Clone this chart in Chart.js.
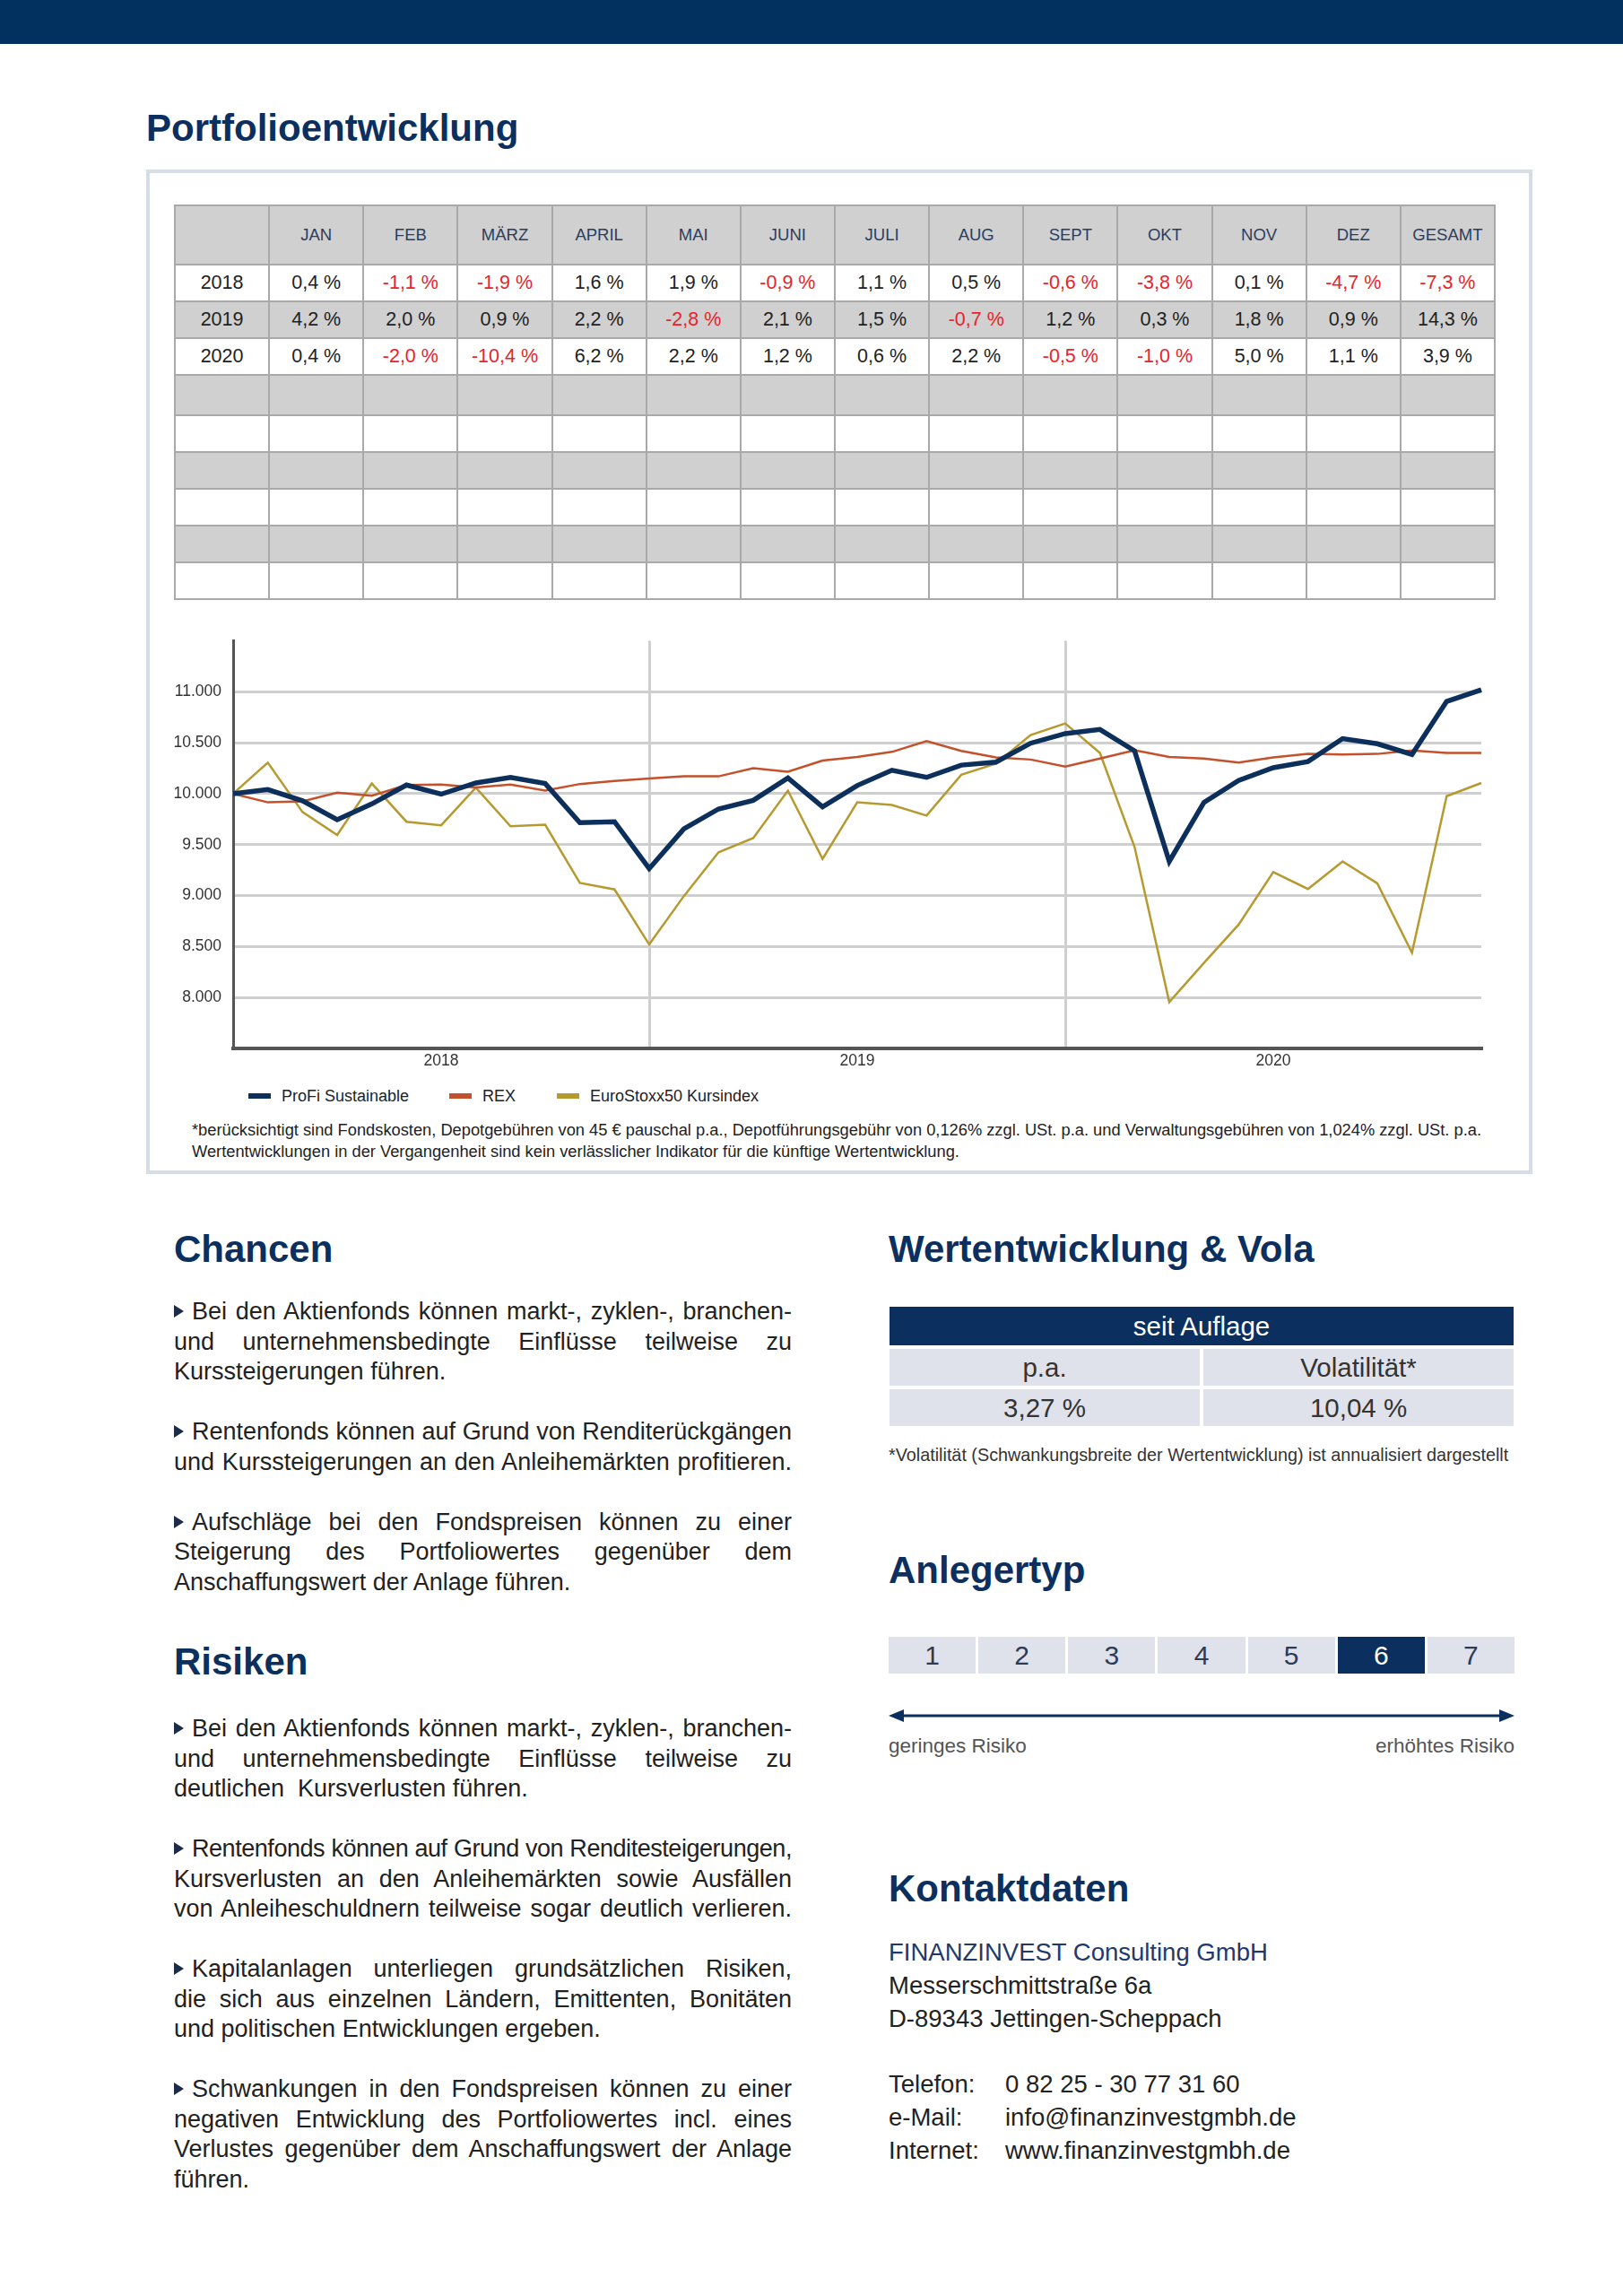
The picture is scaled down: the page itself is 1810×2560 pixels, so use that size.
<!DOCTYPE html>
<html lang="de">
<head>
<meta charset="utf-8">
<title>Portfolioentwicklung</title>
<script src="https://cdn.jsdelivr.net/npm/chart.js@4.4.1/dist/chart.umd.min.js"></script>
<style>
  html, body { margin: 0; padding: 0; background: #fff; }
  body { font-family: "Liberation Sans", Arial, Helvetica, sans-serif; color: #222; }
  #page { position: relative; width: 1810px; height: 2560px; overflow: hidden; }
  .abs { position: absolute; }
  #topbar { left: 0; top: 0; width: 1810px; height: 49px; background: #02305f; }
  h1, h2 { margin: 0; font-size: 42px; line-height: 42px; font-weight: bold; color: #0b2f5e; white-space: nowrap; }
  #panel { left: 163px; top: 189px; width: 1546px; height: 1120px; border: 4px solid #d6dde7; box-sizing: border-box; }

  #perf { left: 194px; top: 228px; width: 1474px; border-collapse: collapse; table-layout: fixed; }
  #perf td, #perf th { border: 2px solid #a9a9a9; text-align: center; padding: 0; }
  #perf th { font-weight: normal; font-size: 18.5px; color: #2c3e5f; background: #d0d0d0; }
  #perf td { font-size: 21.5px; color: #222; }
  #perf tr.hd { height: 66px; }
  #perf tr { height: 41px; }
  #perf tr.tall { height: 45px; }
  #perf tr.g td { background: #d0d0d0; }
  #perf td.neg { color: #e8232a; }

  #chartBox { left: 180px; top: 691px; width: 1500px; height: 519px; }
  .leg { top: 1210px; height: 24px; display: flex; align-items: center; font-size: 18px; color: #222; white-space: nowrap; }
  .leg i { display: inline-block; width: 25px; height: 6px; margin-right: 12px; }
  #note { left: 214px; top: 1248px; font-size: 18.3px; line-height: 24px; color: #222; white-space: nowrap; }

  .txt { width: 689px; font-size: 27px; line-height: 33.5px; color: #222; }
  .txt p { margin: 0 0 33.5px 0; }
  .txt span { display: block; white-space: nowrap; }
  .txt span.j { text-align: justify; text-align-last: justify; }
  .tri { display: inline-block; width: 0; height: 0; border-left: 11px solid #1d2b4a; border-top: 7px solid transparent; border-bottom: 7px solid transparent; margin-right: 9px; vertical-align: 2px; }

  #vola { left: 992px; top: 1457px; width: 696px; }
  #vola .head { height: 43px; line-height: 43px; background: #0b2f5e; color: #fff; text-align: center; font-size: 29.5px; }
  #vola .row { display: flex; gap: 4px; margin-top: 4px; }
  #vola .row div { flex: 1; height: 41px; line-height: 41px; background: #dfe2ea; text-align: center; font-size: 29.5px; color: #333; }
  #volaNote { left: 991px; top: 1610px; font-size: 19.8px; line-height: 24px; color: #333; white-space: nowrap; }

  #risk { left: 991px; top: 1825px; width: 698px; display: flex; gap: 3px; }
  #risk div { flex: 1; height: 41px; line-height: 41px; text-align: center; background: #dfe2ea; color: #2f3b55; font-size: 30px; }
  #risk div.on { background: #0b2f5e; color: #fff; }
  #arrow { left: 991px; top: 1903px; }
  .rlab { top: 1934px; font-size: 22.5px; line-height: 26px; color: #555; white-space: nowrap; }

  #contact { left: 991px; top: 2159px; font-size: 27.5px; line-height: 36.8px; color: #222; white-space: nowrap; }
  #contact .firm { color: #1f3a6a; }
  #contact .lbl { display: inline-block; width: 130px; }
</style>
</head>
<body>
<div id="page">
  <div id="topbar" class="abs"></div>
  <h1 class="abs" style="left:163px; top:122px;">Portfolioentwicklung</h1>
  <div id="panel" class="abs"></div>

  <table id="perf" class="abs"></table>

  <div id="chartBox" class="abs"><canvas id="perfChart"></canvas></div>
  <div id="legend"></div>
  <div id="note" class="abs">*berücksichtigt sind Fondskosten, Depotgebühren von 45 € pauschal p.a., Depotführungsgebühr von 0,126% zzgl. USt. p.a. und Verwaltungsgebühren von 1,024% zzgl. USt. p.a.<br>Wertentwicklungen in der Vergangenheit sind kein verlässlicher Indikator für die künftige Wertentwicklung.</div>

  <!-- left column -->
  <h2 class="abs" style="left:194px; top:1372px;">Chancen</h2>
  <div class="abs txt" style="left:194px; top:1446px;">
    <p>
      <span class="j"><i class="tri"></i>Bei den Aktienfonds können markt-, zyklen-, branchen-</span>
      <span class="j">und unternehmensbedingte Einflüsse teilweise zu</span>
      <span>Kurssteigerungen führen.</span>
    </p>
    <p>
      <span class="j"><i class="tri"></i>Rentenfonds können auf Grund von Renditerückgängen</span>
      <span class="j">und Kurssteigerungen an den Anleihemärkten profitieren.</span>
    </p>
    <p>
      <span class="j"><i class="tri"></i>Aufschläge bei den Fondspreisen können zu einer</span>
      <span class="j">Steigerung des Portfoliowertes gegenüber dem</span>
      <span>Anschaffungswert der Anlage führen.</span>
    </p>
  </div>

  <h2 class="abs" style="left:194px; top:1832px;">Risiken</h2>
  <div class="abs txt" style="left:194px; top:1911px;">
    <p>
      <span class="j"><i class="tri"></i>Bei den Aktienfonds können markt-, zyklen-, branchen-</span>
      <span class="j">und unternehmensbedingte Einflüsse teilweise zu</span>
      <span>deutlichen&nbsp; Kursverlusten führen.</span>
    </p>
    <p>
      <span class="j"><i class="tri"></i>Rentenfonds können auf Grund von Renditesteigerungen,</span>
      <span class="j">Kursverlusten an den Anleihemärkten sowie Ausfällen</span>
      <span class="j">von Anleiheschuldnern teilweise sogar deutlich verlieren.</span>
    </p>
    <p>
      <span class="j"><i class="tri"></i>Kapitalanlagen unterliegen grundsätzlichen Risiken,</span>
      <span class="j">die sich aus einzelnen Ländern, Emittenten, Bonitäten</span>
      <span>und politischen Entwicklungen ergeben.</span>
    </p>
    <p>
      <span class="j"><i class="tri"></i>Schwankungen in den Fondspreisen können zu einer</span>
      <span class="j">negativen Entwicklung des Portfoliowertes incl. eines</span>
      <span class="j">Verlustes gegenüber dem Anschaffungswert der Anlage</span>
      <span>führen.</span>
    </p>
  </div>

  <!-- right column -->
  <h2 class="abs" style="left:991px; top:1372px;">Wertentwicklung &amp; Vola</h2>
  <div id="vola" class="abs">
    <div class="head">seit Auflage</div>
    <div class="row"><div>p.a.</div><div>Volatilität*</div></div>
    <div class="row"><div id="volaPa"></div><div id="volaVol"></div></div>
  </div>
  <div id="volaNote" class="abs">*Volatilität (Schwankungsbreite der Wertentwicklung) ist annualisiert dargestellt</div>

  <h2 class="abs" style="left:991px; top:1730px;">Anlegertyp</h2>
  <div id="risk" class="abs"></div>
  <svg id="arrow" class="abs" width="698" height="20" viewBox="0 0 698 20">
    <line x1="10" y1="10" x2="688" y2="10" stroke="#0b2f5e" stroke-width="3"/>
    <polygon points="0,10 17,3 17,17" fill="#0b2f5e"/>
    <polygon points="698,10 681,3 681,17" fill="#0b2f5e"/>
  </svg>
  <div class="abs rlab" style="left:991px;">geringes Risiko</div>
  <div class="abs rlab" style="right:121px; text-align:right;">erhöhtes Risiko</div>

  <h2 class="abs" style="left:991px; top:2085px;">Kontaktdaten</h2>
  <div id="contact" class="abs">
    <div class="firm">FINANZINVEST Consulting GmbH</div>
    <div>Messerschmittstraße 6a</div>
    <div>D-89343 Jettingen-Scheppach</div>
    <div>&nbsp;</div>
    <div><span class="lbl">Telefon:</span>0 82 25 - 30 77 31 60</div>
    <div><span class="lbl">e-Mail:</span>info@finanzinvestgmbh.de</div>
    <div><span class="lbl">Internet:</span>www.finanzinvestgmbh.de</div>
  </div>
</div>

<script>
// Monthly returns table (percent), last value = GESAMT
const months = ["JAN", "FEB", "MÄRZ", "APRIL", "MAI", "JUNI", "JULI", "AUG", "SEPT", "OKT", "NOV", "DEZ"];
const tableYears = ["2018", "2019", "2020"];
const returns2018 = [0.4, -1.1, -1.9, 1.6, 1.9, -0.9, 1.1, 0.5, -0.6, -3.8, 0.1, -4.7, -7.3];
const returns2019 = [4.2, 2.0, 0.9, 2.2, -2.8, 2.1, 1.5, -0.7, 1.2, 0.3, 1.8, 0.9, 14.3];
const returns2020 = [0.4, -2.0, -10.4, 6.2, 2.2, 1.2, 0.6, 2.2, -0.5, -1.0, 5.0, 1.1, 3.9];
const emptyRows = 6;

// Chart series: start value (end 2017) + month-end values 2018-2020
const chartYears = ["2018", "2019", "2020"];
const profi = [10000, 10040, 9930, 9745, 9900, 10085, 9995, 10105, 10160, 10100, 9715, 9725, 9265,
  9655, 9850, 9935, 10155, 9870, 10080, 10230, 10160, 10280, 10310, 10495, 10590,
  10630, 10420, 9335, 9915, 10130, 10255, 10315, 10540, 10490, 10385, 10905, 11020];
const rex = [10000, 9915, 9925, 10010, 9980, 10085, 10090, 10060, 10090, 10030, 10095, 10125, 10150,
  10170, 10170, 10250, 10215, 10325, 10360, 10410, 10515, 10420, 10355, 10335, 10265,
  10345, 10425, 10360, 10345, 10305, 10355, 10390, 10385, 10390, 10425, 10400, 10400];
const stoxx = [10000, 10305, 9820, 9595, 10100, 9725, 9690, 10060, 9680, 9695, 9125, 9060, 8520,
  8995, 9425, 9565, 10030, 9360, 9915, 9890, 9785, 10185, 10295, 10575, 10690,
  10400, 9475, 7955, 8340, 8715, 9230, 9065, 9335, 9120, 8440, 9975, 10105];
const yTicks = [8000, 8500, 9000, 9500, 10000, 10500, 11000];

const seriesNames = ["ProFi Sustainable", "REX", "EuroStoxx50 Kursindex"];
const seriesColors = ["#0d2f5b", "#c4512b", "#b69a30"];

const volaValues = ["3,27 %", "10,04 %"];
const riskLevels = [1, 2, 3, 4, 5, 6, 7];
const riskActive = 6;

const fmtPct = v => v.toFixed(1).replace(".", ",") + " %";
const fmtThousand = v => String(v).replace(/\B(?=(\d{3})+(?!\d))/g, ".");

// build performance table
const perf = document.getElementById("perf");
let html = '<tr class="hd"><th></th>' + months.map(m => `<th>${m}</th>`).join("") + "<th>GESAMT</th></tr>";
[returns2018, returns2019, returns2020].forEach((row, i) => {
  html += `<tr class="${i % 2 ? "g" : ""}"><td>${tableYears[i]}</td>` +
    row.map(v => `<td class="${v < 0 ? "neg" : ""}">${fmtPct(v)}</td>`).join("") + "</tr>";
});
for (let r = 0; r < emptyRows; r++) {
  html += `<tr class="${r % 2 ? "" : "g"} ${r === 0 ? "tall" : ""}">` + "<td></td>".repeat(14) + "</tr>";
}
perf.innerHTML = html;

document.getElementById("volaPa").textContent = volaValues[0];
document.getElementById("volaVol").textContent = volaValues[1];
document.getElementById("risk").innerHTML =
  riskLevels.map(n => `<div class="${n === riskActive ? "on" : ""}">${n}</div>`).join("");

// squeeze body lines that are wider than the column
document.querySelectorAll(".txt span").forEach(s => {
  s.style.display = "inline-block";
  const w = s.getBoundingClientRect().width;
  s.style.display = "";
  if (w > 689) {
    const n = s.textContent.length;
    s.style.letterSpacing = (-(w - 688) / n).toFixed(3) + "px";
  }
});

// legend
const legendX = [277, 501, 621];
document.getElementById("legend").innerHTML = seriesNames.map((n, i) =>
  `<div class="abs leg" style="left:${legendX[i]}px"><i style="background:${seriesColors[i]}"></i>${n}</div>`).join("");

// category labels: start + 12 months per year
const labels = ["Start"];
chartYears.forEach(y => months.forEach(m => labels.push(m + " " + y)));

const font = { family: '"Liberation Sans", Arial, sans-serif', size: 17.5 };
const gridGrey = "#cfcfcf";

const ctx = document.getElementById("perfChart").getContext("2d");
new Chart(ctx, {
  type: "line",
  data: {
    labels: labels,
    datasets: [
      { label: seriesNames[0], data: profi, borderColor: seriesColors[0], borderWidth: 5.5 },
      { label: seriesNames[1], data: rex, borderColor: seriesColors[1], borderWidth: 2.5 },
      { label: seriesNames[2], data: stoxx, borderColor: seriesColors[2], borderWidth: 2.5 },
    ],
  },
  options: {
    responsive: true,
    maintainAspectRatio: false,
    devicePixelRatio: 1,
    animation: false,
    layout: { padding: { top: 6, right: 28, left: 0, bottom: 0 } },
    elements: { point: { radius: 0 }, line: { tension: 0, borderJoinStyle: "miter" } },
    plugins: { legend: { display: false }, tooltip: { enabled: false } },
    scales: {
      x: {
        offset: false,
        grid: {
          color: c => (c.index === 12 || c.index === 24) ? gridGrey : "transparent",
          lineWidth: 3,
          drawTicks: false,
        },
        border: { color: "#555", width: 4 },
        ticks: {
          autoSkip: false,
          maxRotation: 0,
          padding: 4,
          color: "#333",
          font: font,
          // year label in the middle of each year
          callback: (v, i) => (i % 12 === 6) ? chartYears[(i - 6) / 12] : "",
        },
        afterFit: s => { s.height = 41; },
      },
      y: {
        min: 7500,
        max: 11500,
        grid: {
          color: c => yTicks.includes(c.tick.value) ? gridGrey : "transparent",
          lineWidth: 3,
          drawTicks: false,
        },
        border: { color: "#555", width: 3 },
        ticks: {
          stepSize: 500,
          padding: 13,
          color: "#333",
          font: font,
          callback: v => yTicks.includes(v) ? fmtThousand(v) : "",
        },
        afterFit: s => { s.width = 80; },
      },
    },
  },
});
</script>
</body>
</html>
